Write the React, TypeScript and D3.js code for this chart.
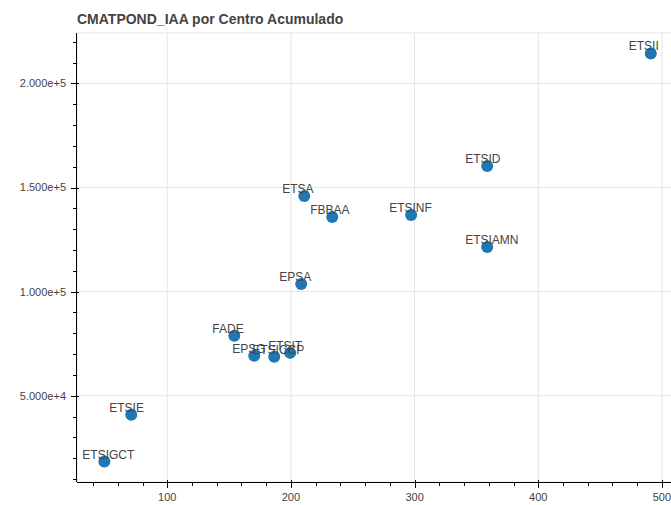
import React from "react";
import * as d3 from "d3";

const centros = ["ETSII", "ETSID", "ETSIAMN", "ETSINF", "ETSA", "FBBAA", "EPSA", "FADE", "EPSG", "ETSICCP", "ETSIT", "ETSIE", "ETSIGCT"];
const xValues = [491, 358.7, 358.7, 297.2, 210.8, 233.4, 208.3, 154.2, 170.3, 186.5, 199.4, 70.9, 49.1];
const yValues = [214400, 160300, 121400, 136800, 145900, 135800, 103700, 78800, 69200, 68700, 70600, 40900, 18400];
const xMajorTicks = [100, 200, 300, 400, 500];
const yMajorTicks = [50000, 100000, 150000, 200000];
const yTickLabels = ["5.000e+4", "1.000e+5", "1.500e+5", "2.000e+5"];
const title = "CMATPOND_IAA por Centro Acumulado";

const W = 671;
const H = 505;
const left = 77;
const right = 678;
const top = 33;
const bottom = 482;

export default function App() {
  const x = d3.scaleLinear().domain([27, 513]).range([left, right]);
  const y = d3.scaleLinear().domain([8600, 224200]).range([bottom, top]);
  const xMinor = d3.range(40, 513, 20);
  const yMinor = d3.range(10000, 224200, 10000);
  const font = "'Liberation Sans', Arial, Helvetica, sans-serif";
  const ink = "#444444";
  return (
    <svg width={W} height={H} style={{ position: "absolute", left: 0, top: 0, background: "#fff" }} fontFamily={font}>
      <rect x={0} y={0} width={W} height={H} fill="#fff" />
      <text x={77} y={24} fontSize={14} fontWeight="bold" fill={ink}>{title}</text>
      <rect x={left} y={top} width={right - left} height={bottom - top} fill="none" stroke="#e5e5e5" />
      {xMajorTicks.map((t) => (
        <line key={"gx" + t} x1={x(t)} x2={x(t)} y1={top} y2={bottom} stroke="#e5e5e5" />
      ))}
      {yMajorTicks.map((t) => (
        <line key={"gy" + t} x1={left} x2={right} y1={y(t)} y2={y(t)} stroke="#e5e5e5" />
      ))}
      {/* x axis */}
      <line x1={left} x2={right} y1={bottom + 0.5} y2={bottom + 0.5} stroke="#000" />
      {xMinor.map((t) => (
        <line key={"mx" + t} x1={Math.round(x(t)) + 0.5} x2={Math.round(x(t)) + 0.5} y1={bottom} y2={bottom + 4} stroke="#000" />
      ))}
      {xMajorTicks.map((t) => (
        <g key={"tx" + t}>
          <line x1={Math.round(x(t)) + 0.5} x2={Math.round(x(t)) + 0.5} y1={bottom - 2} y2={bottom + 6} stroke="#000" />
          <text x={x(t)} y={bottom + 19} textAnchor="middle" fontSize={11} fill={ink}>{t}</text>
        </g>
      ))}
      {/* y axis */}
      <line x1={left - 0.5} x2={left - 0.5} y1={top} y2={bottom} stroke="#000" />
      {yMinor.map((t) => (
        <line key={"my" + t} x1={left - 4} x2={left} y1={Math.round(y(t)) + 0.5} y2={Math.round(y(t)) + 0.5} stroke="#000" />
      ))}
      {yMajorTicks.map((t, i) => (
        <g key={"ty" + t}>
          <line x1={left - 6} x2={left + 2} y1={Math.round(y(t)) + 0.5} y2={Math.round(y(t)) + 0.5} stroke="#000" />
          <text x={left - 11} y={y(t)} dy="0.35em" textAnchor="end" fontSize={11} fill={ink}>{yTickLabels[i]}</text>
        </g>
      ))}
      {/* points */}
      {centros.map((c, i) => (
        <circle key={"p" + c} cx={x(xValues[i])} cy={y(yValues[i])} r={6} fill="#1f77b4" />
      ))}
      {centros.map((c, i) => (
        <text key={"l" + c} x={x(xValues[i]) - 22} y={y(yValues[i]) - 3} fontSize={12} fill={ink}>{c}</text>
      ))}
    </svg>
  );
}
